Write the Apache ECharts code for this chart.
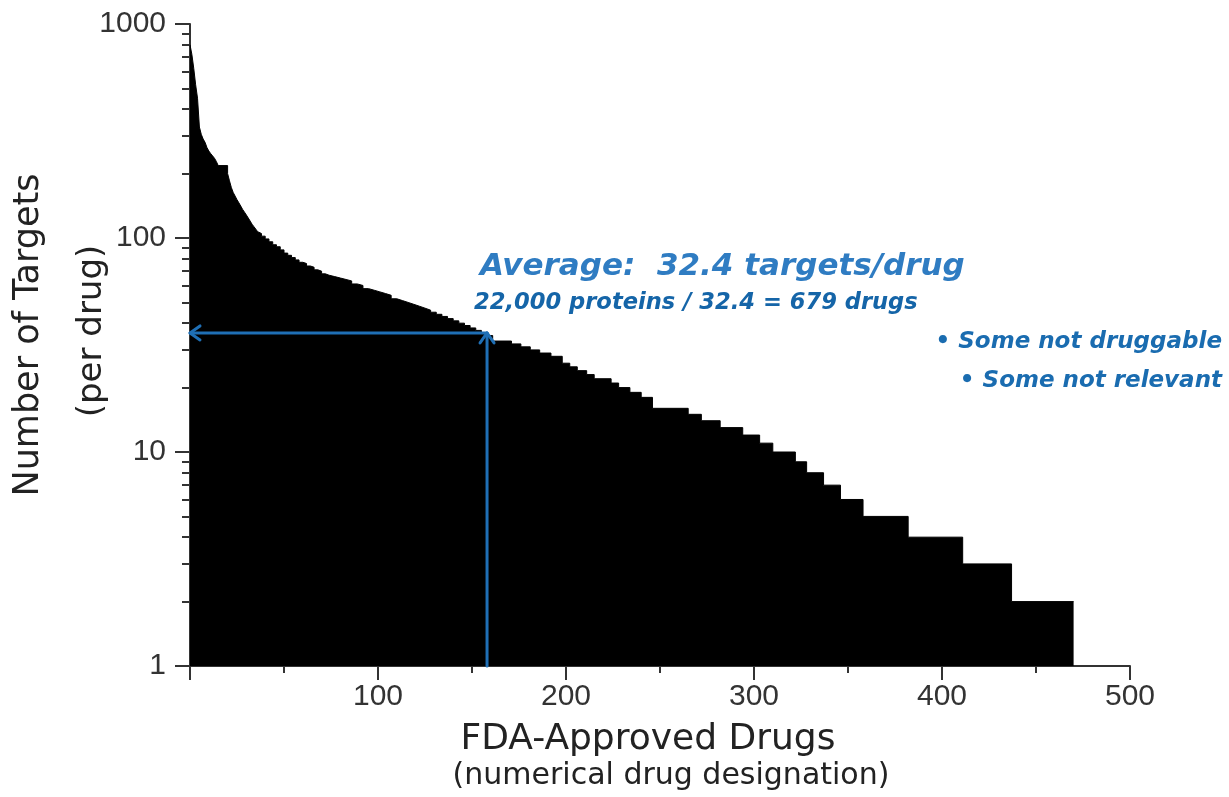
<!DOCTYPE html>
<html>
<head>
<meta charset="utf-8">
<script src="https://cdn.jsdelivr.net/npm/echarts@6/dist/echarts.min.js"></script>
<style>
  html, body { margin: 0; padding: 0; background: #ffffff; }
  #chart { width: 1229px; height: 797px; }
</style>
</head>
<body>
<div id="chart"></div>
<script>
// ---- data ----
// each run: drugs from runStart[i] up to the next start have runTargets[i] targets
const runStart = [0,1,2,3,4,5,6,7,8,9,10,11,12,13,14,15,20,21,22,23,24,25,26,27,28,29,30,31,32,33,34,35,36,37,38,40,42,44,46,48,50,52,54,56,58,60,62,64,66,68,70,72,74,77,80,83,86,89,92,95,98,101,104,107,110,113,116,119,122,125,128,131,134,137,140,143,146,149,152,155,158,161,171,176,181,186,192,198,202,206,211,215,224,228,234,240,246,265,272,282,294,303,310,322,328,337,346,358,382,411,437];
const runTargets = [800,720,620,520,450,330,305,290,280,265,255,248,242,236,228,218,200,185,172,163,157,151,146,141,136,132,128,124,120,116,113,110,107,105,102,99,96,93,91,88,85,83,81,79,77,76,74,73,71,70,68,67,66,65,64,63,61,60,58,57,56,55,54,52,51,50,49,48,47,46,45,44,43,42,41,40,39,38,37,36,35,33,32,31,30,29,28,26,25,24,23,22,21,20,19,18,16,15,14,13,12,11,10,9,8,7,6,5,4,3,2];
const lastDrug = 470;
const averageArrow = [158, 36];            // drug rank, targets level of the arrows
const xTicks = [0, 100, 200, 300, 400, 500];
const yDecades = [1, 10, 100, 1000];
const yMinorTicks = [2,3,4,5,6,7,8,9,20,30,40,50,60,70,80,90,200,300,400,500,600,700,800,900];
const avgTitle = 'Average:  32.4 targets/drug';
const avgSub = '22,000 proteins / 32.4 = 679 drugs';
const bullets = ['• Some not druggable', '• Some not relevant'];
const xTitle = ['FDA-Approved Drugs', '(numerical drug designation)'];
const yTitle = ['Number of Targets', '(per drug)'];

// ---- build series data ----
const stepData = runStart.map((s, i) => [s, runTargets[i]]);
stepData.push([lastDrug, runTargets[runTargets.length - 1]]);

const axisColor = '#333333';
const blue = '#1f6fb5';
const chart = echarts.init(document.getElementById('chart'), null, { renderer: 'canvas' });

const option = {
  backgroundColor: '#ffffff',
  animation: false,
  grid: { left: 190, right: 99, top: 24, bottom: 131, containLabel: false },
  xAxis: {
    type: 'value',
    min: xTicks[0],
    max: xTicks[xTicks.length - 1],
    interval: 100,
    axisLine: { show: true, lineStyle: { color: axisColor, width: 2 } },
    axisTick: { show: true, length: 14, lineStyle: { color: axisColor, width: 2 } },
    minorTick: { show: true, splitNumber: 2, length: 7, lineStyle: { color: axisColor, width: 2 } },
    splitLine: { show: false },
    axisLabel: {
      showMinLabel: false,
      margin: 16,
      color: '#333',
      fontSize: 30,
      fontFamily: 'Liberation Sans'
    }
  },
  yAxis: [
    {
      type: 'log',
      logBase: 10,
      min: yDecades[0],
      max: yDecades[yDecades.length - 1],
      splitNumber: 3,
      axisLine: { show: true, lineStyle: { color: axisColor, width: 2 } },
      axisTick: { show: true, length: 15, lineStyle: { color: axisColor, width: 2 } },
      splitLine: { show: false },
      axisLabel: {
        margin: 24,
        color: '#333',
        fontSize: 30,
        fontFamily: 'Liberation Sans',
        formatter: function (v) { return String(Math.round(v)); }
      }
    },
    {
      type: 'log',
      logBase: 10,
      min: yDecades[0],
      max: yDecades[yDecades.length - 1],
      position: 'left',
      axisLine: { show: false },
      axisLabel: { show: false },
      splitLine: { show: false },
      axisTick: { show: true, length: 8, customValues: yMinorTicks, lineStyle: { color: axisColor, width: 2 } }
    }
  ],
  series: [
    {
      type: 'line',
      step: 'end',
      data: stepData,
      showSymbol: false,
      symbol: 'none',
      lineStyle: { color: '#000', width: 1 },
      areaStyle: { color: '#000', opacity: 1, origin: 'start' },
      z: 2,
      silent: true
    },
    {
      type: 'custom',
      data: [averageArrow],
      z: 5,
      silent: true,
      clip: false,
      renderItem: function (params, api) {
        const xv = api.value(0), yv = api.value(1);
        const pCorner = api.coord([xv, yv]);
        const pLeft = api.coord([0, yv]);
        const pBottom = api.coord([xv, yDecades[0]]);
        const st = { stroke: blue, lineWidth: 3, fill: null, lineCap: 'round', lineJoin: 'round' };
        const h = 10, w = 7;
        return {
          type: 'group',
          children: [
            { type: 'polyline', shape: { points: [pCorner, pLeft] }, style: st },
            { type: 'polyline', shape: { points: [[pLeft[0] + h, pLeft[1] - w], pLeft, [pLeft[0] + h, pLeft[1] + w]] }, style: st },
            { type: 'polyline', shape: { points: [pBottom, pCorner] }, style: st },
            { type: 'polyline', shape: { points: [[pCorner[0] - w, pCorner[1] + h], pCorner, [pCorner[0] + w, pCorner[1] + h]] }, style: st }
          ]
        };
      }
    }
  ],
  graphic: [
    { type: 'text', x: 29, y: 335, rotation: Math.PI / 2,
      style: { text: yTitle[0], font: '35px "DejaVu Sans", sans-serif', fill: '#222', align: 'center', verticalAlign: 'middle' } },
    { type: 'text', x: 92, y: 331, rotation: Math.PI / 2,
      style: { text: yTitle[1], font: '34px "DejaVu Sans", sans-serif', fill: '#222', align: 'center', verticalAlign: 'middle' } },
    { type: 'text', x: 648, y: 740,
      style: { text: xTitle[0], font: '36px "DejaVu Sans", sans-serif', fill: '#222', align: 'center', verticalAlign: 'middle' } },
    { type: 'text', x: 671, y: 776,
      style: { text: xTitle[1], font: '30px "DejaVu Sans", sans-serif', fill: '#222', align: 'center', verticalAlign: 'middle' } },
    { type: 'text', x: 480, y: 267,
      style: { text: avgTitle, font: 'italic bold 31px "DejaVu Sans", sans-serif', fill: '#2f7cc2', align: 'left', verticalAlign: 'middle' } },
    { type: 'text', x: 474, y: 303,
      style: { text: avgSub, font: 'italic bold 22.6px "DejaVu Sans", sans-serif', fill: '#1565a8', align: 'left', verticalAlign: 'middle' } },
    { type: 'text', x: 1222, y: 342,
      style: { text: bullets[0], font: 'italic bold 23px "DejaVu Sans", sans-serif', fill: '#1a6cb0', align: 'right', verticalAlign: 'middle' } },
    { type: 'text', x: 1222, y: 381,
      style: { text: bullets[1], font: 'italic bold 23px "DejaVu Sans", sans-serif', fill: '#1a6cb0', align: 'right', verticalAlign: 'middle' } }
  ]
};
chart.setOption(option);
</script>
</body>
</html>
